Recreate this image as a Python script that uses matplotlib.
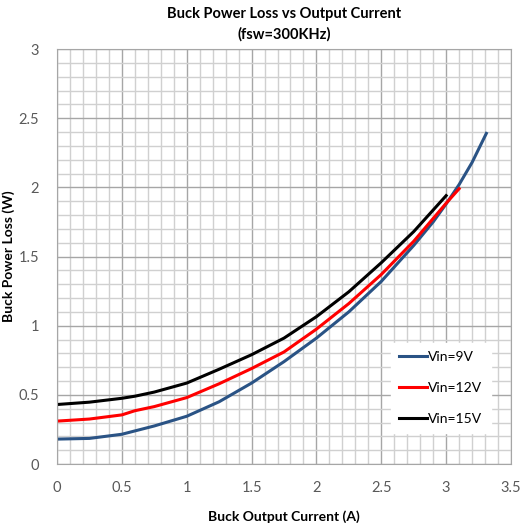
import numpy as np
import matplotlib.pyplot as plt
from matplotlib.ticker import MultipleLocator, FuncFormatter

plt.rcParams['font.family'] = ['Lato', 'DejaVu Sans']

# Output current (A) and power loss (W)
i_9v = [0.0, 0.25, 0.5, 0.75, 1.0, 1.25, 1.5, 1.75, 2.0, 2.25, 2.5, 2.75, 2.9, 3.0, 3.1, 3.2, 3.31]
p_9v = [0.18, 0.185, 0.215, 0.275, 0.345, 0.45, 0.585, 0.74, 0.91, 1.10, 1.32, 1.58, 1.75, 1.88, 2.02, 2.18, 2.39]

i_12v = [0.0, 0.25, 0.5, 0.6, 0.75, 1.0, 1.25, 1.5, 1.75, 2.0, 2.25, 2.5, 2.75, 3.0, 3.1]
p_12v = [0.31, 0.325, 0.355, 0.385, 0.415, 0.48, 0.58, 0.69, 0.81, 0.975, 1.16, 1.37, 1.61, 1.885, 1.99]

i_15v = [0.0, 0.25, 0.5, 0.6, 0.75, 1.0, 1.25, 1.5, 1.75, 2.0, 2.25, 2.5, 2.75, 3.0]
p_15v = [0.43, 0.447, 0.475, 0.49, 0.52, 0.585, 0.685, 0.79, 0.91, 1.065, 1.245, 1.455, 1.68, 1.94]

series = [
    (i_9v, p_9v, '#2a5385', 'Vin=9V'),
    (i_12v, p_12v, '#ff0000', 'Vin=12V'),
    (i_15v, p_15v, '#000000', 'Vin=15V'),
]

fig = plt.figure(figsize=(5.21, 5.23), dpi=100)
ax = fig.add_axes([57/521, 1 - 464/523, 454/521, 415/523])

for x, y, c, lab in series:
    ax.plot(x, y, color=c, lw=2.2, label=lab, solid_joinstyle='round')

ax.set_xlim(0, 3.5)
ax.set_ylim(0, 3)
ax.xaxis.set_major_locator(MultipleLocator(0.5))
ax.yaxis.set_major_locator(MultipleLocator(0.5))
ax.xaxis.set_minor_locator(MultipleLocator(0.1))
ax.yaxis.set_minor_locator(MultipleLocator(0.1))
fmt = FuncFormatter(lambda v, p: f'{v:g}')
ax.xaxis.set_major_formatter(fmt)
ax.yaxis.set_major_formatter(fmt)

ax.grid(which='major', color='#a6a6a6', lw=1.0)
ax.grid(which='minor', color='#d0d0d0', lw=1.0)
ax.set_axisbelow(True)
ax.tick_params(which='both', length=0, labelsize=10.5, colors='#595959')
ax.tick_params(axis='x', pad=12)
ax.tick_params(axis='y', pad=13)
for s in ax.spines.values():
    s.set_color('#a6a6a6')

ax.set_xlabel('Buck Output Current (A)', fontsize=10, fontweight='bold')
ax.set_ylabel('Buck Power Loss (W)', fontsize=10, fontweight='bold')
ax.xaxis.set_label_coords((284 - 57) / 454, (464 - 510) / 415)
ax.yaxis.set_label_coords((15 - 57) / 454, 0.5)
fig.text(284/521, 1 - 14/523, 'Buck Power Loss vs Output Current', ha='center', va='center',
         fontsize=10.5, fontweight='bold')
fig.text(284/521, 1 - 34/523, '(fsw=300KHz)', ha='center', va='center',
         fontsize=10.5, fontweight='bold')

leg = ax.legend(loc='lower right', bbox_to_anchor=(0.955, 0.075), frameon=True, fancybox=False,
                edgecolor='white', framealpha=1, fontsize=10, handlelength=2.0,
                handletextpad=0.1, labelspacing=1.35, borderpad=0.6, borderaxespad=0)

fig.savefig('out.png', dpi=100)
